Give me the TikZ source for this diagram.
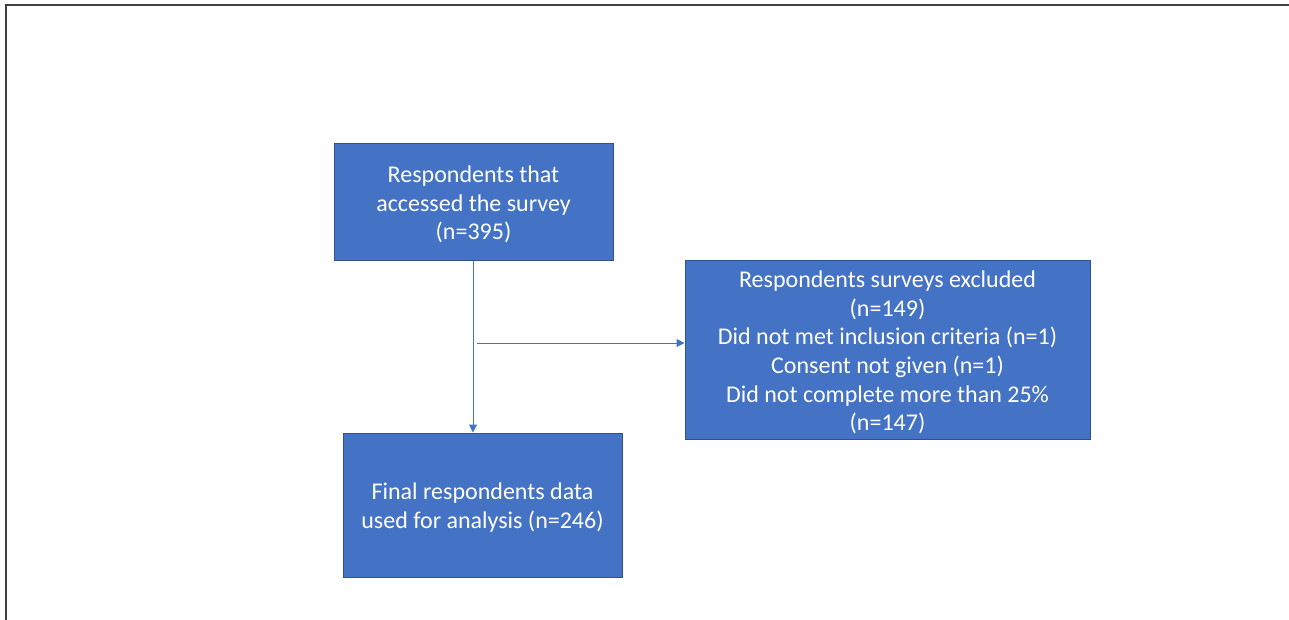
\documentclass[tikz,border=0pt]{standalone}
\usepackage{fontspec}
\setmainfont{Carlito}
\usetikzlibrary{arrows.meta}
\definecolor{boxfill}{HTML}{4472C4}
\definecolor{boxedge}{HTML}{2F528F}
\definecolor{linkcol}{HTML}{4472C4}
\definecolor{framecol}{HTML}{404040}
\begin{document}
\begin{tikzpicture}[x=1pt,y=-1pt,
  flowbox/.style={draw=boxedge, line width=1pt, fill=boxfill, inner sep=0pt},
  boxtext/.style={text=white, align=center, inner sep=0pt,
    font=\fontsize{24}{28.7}\selectfont},
  link/.style={draw=linkcol, line width=1pt, -{Triangle[length=8pt,width=8pt]}}]
\useasboundingbox (0,0) rectangle (1289,620);
\draw[framecol, line width=2pt] (6,620) -- (6,5.5) -- (1289,5.5);
\node[flowbox, minimum width=279pt, minimum height=116pt] (a) at (473.5,202) {};
\node[boxtext] (at) at ([yshift=-2.5pt]a.center)
  {Respondents that\\accessed the survey\\(n=395)};
\node[flowbox, minimum width=405pt, minimum height=179pt] (b) at (887.5,349.5) {};
\node[boxtext] (bt) at ([yshift=-3pt]b.center)
  {Respondents surveys excluded\\(n=149)\\Did not met inclusion criteria (n=1)\\Consent not given (n=1)\\Did not complete more than 25\%\\(n=147)};
\node[flowbox, minimum width=279pt, minimum height=144pt] (c) at (482.5,505) {};
\node[boxtext] (ct) at ([yshift=-2.5pt]c.center)
  {Final respondents data\\used for analysis (n=246)};
\coordinate (split) at (477,343);
\draw[link] (a.south -| 473,0) -- (c.north -| 473,0);
\draw[link] (split) -- (split -| b.west);
\end{tikzpicture}
\end{document}
